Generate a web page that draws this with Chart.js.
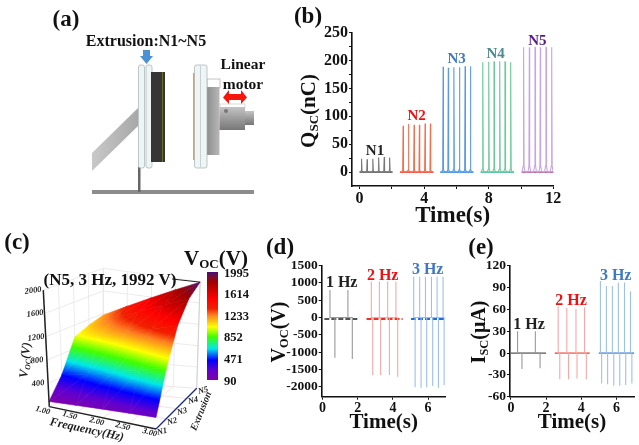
<!DOCTYPE html>
<html>
<head>
<meta charset="utf-8">
<script src="https://cdn.jsdelivr.net/npm/chart.js@4"></script>
<style>
html, body { margin: 0; padding: 0; background: #fff; }
#page { position: relative; width: 639px; height: 445px; overflow: hidden; font-family: "Liberation Serif", serif; font-weight: bold; filter: blur(0.35px); }
#page canvas { position: absolute; }
.lbl { position: absolute; white-space: nowrap; line-height: 1; }
.lbl sub { font-size: 62%; vertical-align: baseline; position: relative; top: 0.22em; }
#schematic { position: absolute; left: 0; top: 0; }
#colorbar { position: absolute; left: 207px; top: 272px; width: 11px; height: 108px; }
</style>
</head>
<body>
<div id="page">
  <svg id="schematic" width="300" height="215">
    <defs>
      <linearGradient id="flange" x1="0" x2="1" y1="0" y2="0"><stop offset="0" stop-color="#8e8e8e"/><stop offset="1" stop-color="#b8b8b8"/></linearGradient>
      <linearGradient id="shaft" x1="0" x2="0" y1="0" y2="1"><stop offset="0" stop-color="#c4c4c4"/><stop offset="0.5" stop-color="#9c9c9c"/><stop offset="1" stop-color="#777"/></linearGradient>
      <linearGradient id="strut" x1="0" x2="1" y1="0" y2="0"><stop offset="0" stop-color="#c8c8c8"/><stop offset="1" stop-color="#a8a8a8"/></linearGradient>
    </defs>
    <rect x="92" y="190" width="162" height="4" fill="#8c8c8c"/>
    <rect x="138" y="167" width="2.5" height="25" fill="#666"/>
    <polygon points="92,153 138,108 138,126 92,171" fill="url(#strut)"/>
    <rect x="138.5" y="65" width="6" height="103" rx="2" fill="#eef5f7" stroke="#a8b0b0" stroke-width="0.7"/>
    <rect x="146" y="65" width="6" height="103" rx="2" fill="#eef5f7" stroke="#a8b0b0" stroke-width="0.7"/>
    <rect x="151" y="72" width="14" height="90" fill="#363636"/>
    <rect x="162" y="72" width="0.8" height="90" fill="#77772a"/>
    <rect x="207" y="79" width="13" height="9" fill="#fff" stroke="#aaa" stroke-width="0.7"/>
    <rect x="207" y="87" width="12.5" height="68" fill="url(#flange)"/>
    <rect x="220" y="104" width="25" height="4" fill="#fff" stroke="#c4c4c4" stroke-width="0.6"/>
    <rect x="219.5" y="107" width="25.5" height="23" fill="url(#shaft)"/>
    <rect x="245" y="111" width="9" height="14" fill="url(#shaft)"/>
    <circle cx="226" cy="111" r="2" fill="#777"/>
    <rect x="194.5" y="65" width="12.5" height="103" rx="2" fill="#eef5f7" stroke="#a8b0b0" stroke-width="0.7"/>
    <rect x="200" y="66" width="1" height="101" fill="#c8d0d0"/>
    <rect x="193" y="73" width="1.4" height="87" fill="#d8a060"/>
    <polygon points="143,50 150,50 150,56 153,56 146.5,64 140,56 143,56" fill="#4a90d2"/>
    <polygon points="223,97.5 229,90 229,94 241,94 241,90 247,97.5 241,104 241,100 229,100 229,104" fill="#f5160c"/>
  </svg>
  <div id="colorbar"></div>
  <canvas id="surfaceChart" style="left:0;top:225px"></canvas>
  <canvas id="qscChart" style="left:300px;top:20px"></canvas>
  <canvas id="vocChart" style="left:270px;top:255px"></canvas>
  <canvas id="iscChart" style="left:465px;top:255px"></canvas>
</div>
<script>
// panel (b) Qsc, peak times and heights
const qscTimes = {
  N1: [0.12, 0.47, 0.82, 1.18, 1.53, 1.86],
  N2: [2.70, 3.03, 3.38, 3.71, 4.06, 4.39],
  N3: [5.18, 5.50, 5.84, 6.19, 6.54, 6.87],
  N4: [7.63, 8.00, 8.33, 8.68, 9.01, 9.36],
  N5: [10.16, 10.52, 10.87, 11.20, 11.55, 11.90]
};
const qscPeaks = {
  N1: [24, 23, 24, 26, 27, 26],
  N2: [83, 86, 85, 85, 87, 87],
  N3: [189, 187, 188, 188, 190, 190],
  N4: [197, 198, 198, 199, 198, 197],
  N5: [224, 224, 224, 224, 224, 224]
};
const qscSpans = { N1: [0, 2.04], N2: [2.5, 4.58], N3: [5, 7.05], N4: [7.5, 9.57], N5: [10.04, 12.06] };
const qscFoot = { N1: 2, N2: 3, N3: 4, N4: 5, N5: 11 };
const qscXTicks = [0, 2, 4, 6, 8, 10, 12];
const qscYTicks = [0, 25, 50, 75, 100, 125, 150, 175, 200, 225, 250];

// panel (d) Voc
const vocUpTimes = { hz1: [0.42, 1.44], hz2: [2.77, 3.23, 3.70, 4.17], hz3: [5.18, 5.52, 5.85, 6.19, 6.51, 6.85] };
const vocUpPeaks = { hz1: [800, 800], hz2: [1040, 1040, 1040, 1040], hz3: [1180, 1180, 1180, 1180, 1180, 1180] };
const vocDownTimes = { hz1: [0.70, 1.69], hz2: [2.85, 3.30, 3.80, 4.27], hz3: [5.26, 5.60, 5.92, 6.26, 6.59, 6.91] };
const vocDownPeaks = { hz1: [-1160, -1200], hz2: [-1660, -1660, -1660, -1710], hz3: [-2020, -2030, -2020, -1980, -2030, -1950] };
const vocSpans = { hz1: [0.1, 2.0], hz2: [2.5, 4.55], hz3: [5.03, 7] };
const vocYTicks = [-2000, -1500, -1000, -500, 0, 500, 1000, 1500];

// panel (e) Isc
const iscUpTimes = { hz1: [0.38, 1.39], hz2: [2.69, 3.18, 3.70, 4.19], hz3: [5.09, 5.43, 5.77, 6.11, 6.46, 6.80] };
const iscUpPeaks = { hz1: [30, 30], hz2: [64, 62, 61, 63], hz3: [99, 92, 92, 97, 97, 85] };
const iscDownTimes = { hz1: [0.63, 1.66], hz2: [2.78, 3.28, 3.76, 4.29], hz3: [5.16, 5.50, 5.85, 6.19, 6.53, 6.88] };
const iscDownPeaks = { hz1: [-22, -21], hz2: [-36, -36, -35, -36], hz3: [-42, -43, -45, -45, -44, -42] };
const iscSpans = { hz1: [0, 2.0], hz2: [2.5, 4.48], hz3: [5, 7] };
const iscYTicks = [-60, -30, 0, 30, 60, 90, 120];
const pulseXTicks = [0, 2, 4, 6];

// panel (c) surface, rows N1..N5, columns 1..3 Hz
const frequencies = [1, 1.5, 2, 2.5, 3];
const extrusions = [1, 2, 3, 4, 5];
const vocSurface = [
  [90, 120, 150, 175, 200],
  [440, 540, 650, 780, 900],
  [995, 1100, 1210, 1350, 1495],
  [1100, 1280, 1460, 1650, 1830],
  [1176, 1380, 1585, 1790, 1992]
];
const freqTicks = ['1.00', '1.50', '2.00', '2.50', '3.00'];
const extrusionTicks = ['N1', 'N2', 'N3', 'N4', 'N5'];
const vocAxisTicks = [400, 800, 1200, 1600, 2000];
const colorbarTicks = [90, 471, 852, 1233, 1614, 1995];
const colormapValues = [90, 266, 441, 500, 647, 852, 1028, 1233, 1350, 1526, 1819, 1907, 1995];
const colormapColors = ['#8000a8', '#6000d0', '#0000ff', '#0040ff', '#00e8e8', '#40ff00', '#ffff00', '#ff8020', '#f02000', '#ff0000', '#a00000', '#7a0a30', '#4b0a78'];

const grayLine = '#999999', grayBase = '#555555';
const redLine = '#f5a8a8', redBase = '#f03020';
const blueLine = '#9cc0ec', blueBase = '#1a6fd8';

const labels = [
  ['(a)', 66, 18, 23, '#111'],
  ['Extrusion:N1~N5', 146, 41, 16, '#111'],
  ['Linear', 243, 64, 15.5, '#111'],
  ['motor', 243, 84, 15.5, '#111'],
  ['(b)', 308, 15, 23, '#111'],
  ['(c)', 17, 241, 23, '#111'],
  ['(d)', 280, 246, 23, '#111'],
  ['(e)', 481, 246, 23, '#111'],
  ['N1', 375, 149.5, 15, '#222'],
  ['N2', 416.7, 115, 15, '#f01010'],
  ['N3', 456.7, 58, 15, '#3f78c5'],
  ['N4', 495.7, 53, 15, '#4a8a90'],
  ['N5', 537.3, 40, 15, '#5a1a8a'],
  ['Q<sub>SC</sub>(nC)', 308, 110.7, 21, '#111', -90],
  ['V<sub>OC</sub>(V)', 278, 331.7, 20, '#111', -90],
  ['I<sub>SC</sub>(μA)', 478, 331.7, 20, '#111', -90],
  ['1 Hz', 341.7, 282, 16, '#222'],
  ['2 Hz', 382.7, 275, 16, '#f01010'],
  ['3 Hz', 427.7, 269, 16, '#3f78c5'],
  ['1 Hz', 529, 324.3, 16, '#222'],
  ['2 Hz', 571, 299.7, 16, '#f01010'],
  ['3 Hz', 615.7, 275, 16, '#3f78c5'],
  ['V<sub>OC</sub>(V)', 216, 258, 21, '#111'],
  ['(N5, 3 Hz, 1992 V)', 110, 279, 17, '#111'],
  ['Frequency(Hz)', 87, 429, 12, '#222', 12, true],
  ['V<sub>OC</sub>(V)', 25, 360, 12.5, '#222', -85, true],
  ['Extrusion', 201, 411, 10, '#222', -68, true]
];

const page = document.getElementById('page');
const addLabel = ([html, x, y, size, color, rotate, italic]) => {
  const el = document.createElement('div');
  el.className = 'lbl';
  el.innerHTML = html;
  el.style.left = x + 'px';
  el.style.top = y + 'px';
  el.style.fontSize = size + 'px';
  el.style.color = color;
  if (italic) el.style.fontStyle = 'italic';
  el.style.transform = `translate(-50%, -50%) rotate(${rotate || 0}deg)`;
  page.appendChild(el);
};
labels.forEach(addLabel);

// narrow spike with a foot, used on the charge traces
const softSpikes = (times, peaks, span, foot) => {
  const pts = [{ x: span[0], y: 0 }];
  times.forEach((t, i) => {
    pts.push({ x: t - 0.09, y: 0 }, { x: t - 0.03, y: foot }, { x: t - 0.004, y: peaks[i] }, { x: t + 0.004, y: peaks[i] }, { x: t + 0.03, y: foot }, { x: t + 0.09, y: 0 });
  });
  pts.push({ x: span[1], y: 0 });
  return pts;
};

// hairline spikes on a flat base, used on the voltage and current traces
const needleSpikes = (upTimes, upPeaks, downTimes, downPeaks) => {
  const all = [];
  upTimes.forEach((t, i) => all.push([t, upPeaks[i]]));
  downTimes.forEach((t, i) => all.push([t, downPeaks[i]]));
  all.sort((a, b) => a[0] - b[0]);
  const pts = [];
  all.forEach(([t, v]) => pts.push({ x: t, y: 0 }, { x: t, y: v }, { x: t, y: 0 }));
  return pts;
};

const traceSet = (data, color, width) => ({ data, borderColor: color, borderWidth: width, pointRadius: 0, showLine: true, tension: 0, fill: false });

const tickFont = (size) => ({ family: 'Liberation Serif', weight: 'bold', size });

const fixedTicks = (values) => (s) => { s.ticks = values.map((value) => ({ value })); };

const traceChart = (id, box, datasets, xOpts, yOpts) => {
  const canvas = document.getElementById(id);
  canvas.width = box.width;
  canvas.height = box.height;
  canvas.style.width = box.width + 'px';
  canvas.style.height = box.height + 'px';
  return new Chart(canvas, {
    type: 'scatter',
    data: { datasets },
    options: {
      responsive: false,
      animation: false,
      layout: { padding: { top: box.top, right: box.right, left: 0, bottom: 0 } },
      plugins: { legend: { display: false }, tooltip: { enabled: false } },
      scales: {
        x: {
          min: xOpts.min, max: xOpts.max,
          afterBuildTicks: fixedTicks(xOpts.values),
          afterFit: (s) => { s.height = box.bottom; },
          border: { color: '#111', width: 1.6 },
          grid: { drawOnChartArea: false, tickLength: 3, tickColor: '#111', tickWidth: 1 },
          title: { display: true, text: 'Time(s)', color: '#111', font: tickFont(xOpts.titleSize), padding: { top: 0, bottom: 0 } },
          ticks: {
            maxRotation: 0, autoSkip: false, color: '#111', padding: 0,
            font: tickFont(xOpts.size),
            callback: (v) => (v % xOpts.labelEvery === 0 ? v : '')
          }
        },
        y: {
          min: yOpts.min, max: yOpts.max,
          afterBuildTicks: fixedTicks(yOpts.values),
          afterFit: (s) => { s.width = box.left; },
          border: { color: '#111', width: 1.6 },
          grid: { drawOnChartArea: false, tickLength: 3, tickColor: '#111', tickWidth: 1 },
          ticks: {
            autoSkip: false, color: '#111', padding: 1,
            font: tickFont(yOpts.size),
            callback: (v) => (v % yOpts.labelEvery === 0 ? v : '')
          }
        }
      }
    }
  });
};

const qscColors = { N1: ['#777777', '#444444'], N2: ['#f07050', '#f02010'], N3: ['#5a9ae0', '#1a78e0'], N4: ['#6cc898', '#20b090'], N5: ['#c8a4e2', '#a83878'] };
const qscSets = [];
Object.keys(qscTimes).forEach((k) => {
  qscSets.push(traceSet(softSpikes(qscTimes[k], qscPeaks[k], qscSpans[k], qscFoot[k]), qscColors[k][0], 1.1));
  qscSets.push(traceSet(qscSpans[k].map((x) => ({ x, y: 0 })), qscColors[k][1], 1.2));
});
traceChart('qscChart', { width: 270, height: 210, left: 52, top: 12.7, right: 16.7, bottom: 44 }, qscSets,
  { min: -0.47, max: 12, values: qscXTicks, labelEvery: 4, size: 16, titleSize: 23 },
  { min: -25, max: 250, values: qscYTicks, labelEvery: 50, size: 16 });

const pulseSets = (up, upP, down, downP, spans, level) => {
  const colors = { hz1: [grayLine, grayBase], hz2: [redLine, redBase], hz3: [blueLine, blueBase] };
  const out = [];
  Object.keys(spans).forEach((k) => {
    out.push(traceSet(needleSpikes(up[k], upP[k], down[k], downP[k]), colors[k][0], 1.1));
    const base = traceSet(spans[k].map((x) => ({ x, y: level })), colors[k][1], level ? 2 : 1.2);
    if (level) base.borderDash = [5, 2];
    out.push(base);
  });
  return out;
};

traceChart('vocChart', { width: 185, height: 180, left: 51.7, top: 10.7, right: 9.3, bottom: 38.3 },
  pulseSets(vocUpTimes, vocUpPeaks, vocDownTimes, vocDownPeaks, vocSpans, -40),
  { min: -0.05, max: 7, values: pulseXTicks, labelEvery: 2, size: 14, titleSize: 21 },
  { min: -2290, max: 1500, values: vocYTicks, labelEvery: 500, size: 13.5 });

traceChart('iscChart', { width: 174, height: 180, left: 45, top: 10.7, right: 5, bottom: 38.3 },
  pulseSets(iscUpTimes, iscUpPeaks, iscDownTimes, iscDownPeaks, iscSpans, 0),
  { min: -0.05, max: 7, values: pulseXTicks, labelEvery: 2, size: 14, titleSize: 21 },
  { min: -60, max: 120, values: iscYTicks, labelEvery: 30, size: 13.5 });

// colour scale
const colorbarCss = colormapValues.map((v, i) => `${colormapColors[i]} ${((v - 90) / 1905) * 100}%`).join(',');
document.getElementById('colorbar').style.background = `linear-gradient(to top, ${colorbarCss})`;
colorbarTicks.forEach((v) => {
  addLabel([String(v), 224, 380.5 - ((v - 90) / 1905) * 108, 12.5, '#111']);
  page.lastChild.style.transform = 'translate(0, -50%)';
});

// perspective of the 3D box, corners are [left, front-right, back-left, back-right]
const blend = (c, u, w) => c[0] * (1 - u) * (1 - w) + c[1] * u * (1 - w) + c[2] * (1 - u) * w + c[3] * u * w;
const floorX = [49.3, 156, 103.3, 196.7];
const floorY = [181.7, 204, 156.7, 163.3];
const riseY = [0.0583, 0.058, 0.0567, 0.0533];
const leanX = [-0.003, 0, 0, 0.0017];
const project = (f, e, v) => {
  const u = (f - 1) / 2, w = (e - 1) / 4;
  return { x: blend(floorX, u, w) + v * blend(leanX, u, w), y: blend(floorY, u, w) - v * blend(riseY, u, w) };
};

const surfaceCanvas = document.getElementById('surfaceChart');
surfaceCanvas.width = 265;
surfaceCanvas.height = 220;
surfaceCanvas.style.width = '265px';
surfaceCanvas.style.height = '220px';
const surfaceCtx = surfaceCanvas.getContext('2d');

// colour runs linearly over one triangle, so the gradient follows its plane
const triangleFill = (a, b, c) => {
  const d = (b.x - a.x) * (c.y - a.y) - (c.x - a.x) * (b.y - a.y);
  if (Math.abs(d) < 1e-6) return '#888';
  const gx = ((b.v - a.v) * (c.y - a.y) - (c.v - a.v) * (b.y - a.y)) / d;
  const gy = ((c.v - a.v) * (b.x - a.x) - (b.v - a.v) * (c.x - a.x)) / d;
  const g2 = gx * gx + gy * gy;
  if (g2 < 1e-9) return '#8000a8';
  const at = (v) => ({ x: a.x + gx * (v - a.v) / g2, y: a.y + gy * (v - a.v) / g2 });
  const p0 = at(90), p1 = at(1995);
  const grad = surfaceCtx.createLinearGradient(p0.x, p0.y, p1.x, p1.y);
  colormapValues.forEach((v, i) => grad.addColorStop((v - 90) / 1905, colormapColors[i]));
  return grad;
};

const surfaceSets = [];
const frameLine = (pts, color, width) => ({ data: pts, borderColor: color, borderWidth: width, pointRadius: 0, showLine: true, tension: 0, fill: false });
const wall = '#e6e6e6';
const floorLine = '#f2dcdc';
// back walls and floor
frequencies.forEach((f) => {
  surfaceSets.push(frameLine([project(f, 5, 0), project(f, 5, 2000)], wall, 0.8));
  surfaceSets.push(frameLine([project(f, 1, 0), project(f, 5, 0)], floorLine, 0.8));
});
extrusions.forEach((e) => {
  surfaceSets.push(frameLine([project(1, e, 0), project(1, e, 2000)], wall, 0.8));
  surfaceSets.push(frameLine([project(1, e, 0), project(3, e, 0)], floorLine, 0.8));
});
vocAxisTicks.forEach((v) => {
  surfaceSets.push(frameLine([project(1, 1, v), project(1, 5, v), project(3, 5, v)], wall, 0.8));
});
surfaceSets.push(frameLine([project(3, 5, 0), project(3, 5, 2000)], '#d0d0d0', 1));
surfaceSets.push(frameLine([project(3, 1, 0), project(3, 5, 0)], '#1a2a90', 1.3));
for (let r = 0; r < extrusions.length - 1; r++) {
  for (let c = 0; c < frequencies.length - 1; c++) {
    const node = (ri, ci) => ({ ...project(frequencies[ci], extrusions[ri], vocSurface[ri][ci]), v: vocSurface[ri][ci] });
    const a = node(r, c), b = node(r, c + 1), d = node(r + 1, c), e = node(r + 1, c + 1);
    [[a, b, e], [a, e, d]].forEach((tri) => {
      const fillStyle = triangleFill(tri[0], tri[1], tri[2]);
      surfaceSets.push({
        data: [...tri, tri[0]].map(({ x, y }) => ({ x, y })),
        backgroundColor: fillStyle, borderColor: fillStyle, borderWidth: 0.6,
        pointRadius: 0, showLine: true, tension: 0, fill: 'shape'
      });
    });
  }
}
// axes
surfaceSets.push(frameLine([project(1, 1, 0), project(1, 1, 2000)], '#222', 1.5));
surfaceSets.push(frameLine([project(1, 1, 0), project(3, 1, 0)], '#222', 1.3));
surfaceSets.push(frameLine([{ x: 172, y: 54 }, project(3, 5, 1992)], '#222', 1));

// the first dataset is painted last, so hand them over back to front
new Chart(surfaceCanvas, {
  type: 'scatter',
  data: { datasets: surfaceSets.reverse() },
  options: {
    responsive: false,
    animation: false,
    layout: { padding: 0 },
    plugins: { legend: { display: false }, tooltip: { enabled: false } },
    scales: {
      x: { display: false, min: 0, max: 265 },
      y: { display: false, min: 0, max: 220, reverse: true }
    }
  }
});

// 3D axis tick labels follow the projection
const smallTick = (text, p, dx, dy, rot) => addLabel([text, p.x + dx, p.y + 225 + dy, 8.5, '#222', rot, true]);
vocAxisTicks.forEach((v) => smallTick(String(v), project(1, 1, v), -10, 0, -8));
frequencies.forEach((f, i) => smallTick(freqTicks[i], project(f, 1, 0), -6, 3, 15));
extrusions.forEach((e, i) => smallTick(extrusionTicks[i], project(3, e, 0), 6, 2, -15));
</script>
</body>
</html>
